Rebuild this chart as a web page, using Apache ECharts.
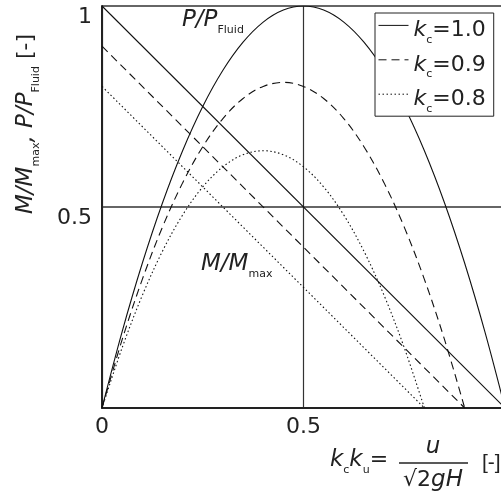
<!DOCTYPE html>
<html><head><meta charset="utf-8">
<script src="https://cdn.jsdelivr.net/npm/echarts@6/dist/echarts.min.js"></script>
<style>html,body{margin:0;padding:0;background:#fff}#c{width:501px;height:497px}</style>
</head><body><div id="c"></div>
<script>
// ---- data ----
const xs10 = [0,0.05,0.1,0.15,0.2,0.25,0.3,0.35,0.4,0.45,0.5,0.55,0.6,0.65,0.7,0.75,0.8,0.85,0.9,0.95,1];
const p10  = [0,0.19,0.36,0.51,0.64,0.75,0.84,0.91,0.96,0.99,1,0.99,0.96,0.91,0.84,0.75,0.64,0.51,0.36,0.19,0];
const xs09 = [0,0.05,0.1,0.15,0.2,0.25,0.3,0.35,0.4,0.45,0.5,0.55,0.6,0.65,0.7,0.75,0.8,0.85,0.9];
const p09  = [0,0.17,0.32,0.45,0.56,0.65,0.72,0.77,0.80,0.81,0.80,0.77,0.72,0.65,0.56,0.45,0.32,0.17,0];
const xs08 = [0,0.05,0.1,0.15,0.2,0.25,0.3,0.35,0.4,0.45,0.5,0.55,0.6,0.65,0.7,0.75,0.8];
const p08  = [0,0.15,0.28,0.39,0.48,0.55,0.60,0.63,0.64,0.63,0.60,0.55,0.48,0.39,0.28,0.15,0];
const mx10 = [0,1],   m10 = [1,0];
const mx09 = [0,0.9], m09 = [0.9,0];
const mx08 = [0,0.8], m08 = [0.8,0];
const kcNames = ['1.0','0.9','0.8'];
const xTickLabels = [0,0.5];
const yTickLabels = [0.5,1];

const F = 'DejaVu Sans';
const C = '#222';
const pairs = (xs, ys) => xs.map((x,i)=>[x, ys[i]]);
const styles = [
  {type:'solid'},
  {type:[8,5]},
  {type:[1.5,2.5]}
];
const curves = [[xs10,p10,mx10,m10],[xs09,p09,mx09,m09],[xs08,p08,mx08,m08]];
const series = [];
curves.forEach((c,i)=>{
  const ls = Object.assign({color:'#111', width:1.1}, styles[i]);
  series.push({name:kcNames[i], type:'line', data:pairs(c[0],c[1]), smooth:0.35, symbol:'none', lineStyle:ls, itemStyle:{color:'#111'}, z:3});
  series.push({name:kcNames[i], type:'line', data:pairs(c[2],c[3]), symbol:'none', lineStyle:ls, itemStyle:{color:'#111'}, z:3});
});

const chart = echarts.init(document.getElementById('c'), null, {renderer:'canvas'});
chart.setOption({
  animation:false,
  backgroundColor:'#fff',
  grid:{left:102, top:6, width:403, height:402, show:false, outerBoundsMode:'none', containLabel:false},
  xAxis:{type:'value', min:0, max:1, interval:0.5,
    axisLine:{show:true, lineStyle:{color:C, width:2}},
    axisTick:{show:false},
    axisLabel:{fontFamily:F, fontSize:22, color:C, margin:8,
      formatter:v=> xTickLabels.includes(v) ? String(v) : ''},
    splitLine:{show:true, lineStyle:{color:'#333', width:1.2}}
  },
  yAxis:{type:'value', min:0, max:1, interval:0.5,
    axisLine:{show:true, lineStyle:{color:C, width:2}},
    axisTick:{show:false},
    axisLabel:{fontFamily:F, fontSize:22, color:C, margin:10, verticalAlign:'top',
      formatter:v=> yTickLabels.includes(v) ? String(v) : ''},
    splitLine:{show:true, lineStyle:{color:'#333', width:1.5}}
  },
  legend:{orient:'vertical', left:375, top:13, backgroundColor:'#fff',
    borderColor:C, borderWidth:1, padding:[2,8,2,3], itemGap:4,
    itemWidth:30, itemHeight:26, data:kcNames,
    itemStyle:{color:'transparent', borderWidth:0, opacity:0},
    lineStyle:{width:1},
    formatter:n=>'{k|k}{s|c}{v|=' + n + '}',
    textStyle:{color:C, fontFamily:F, padding:[14,0,0,0],
      rich:{k:{fontSize:22, fontStyle:'italic', fontFamily:F, verticalAlign:'bottom', padding:[0,0,4,0]},
            s:{fontSize:11, fontFamily:F, verticalAlign:'bottom'},
            v:{fontSize:22, fontFamily:F, verticalAlign:'bottom', padding:[0,0,4,0]}}}
  },
  graphic:[
    {type:'text', left:182, top:9, z:10, style:{text:'{i|P/P}{s|Fluid}', fill:C,
      rich:{i:{fontSize:23, fontStyle:'italic', fontFamily:F, verticalAlign:'bottom', padding:[0,0,4,0]},
            s:{fontSize:11, fontFamily:F, verticalAlign:'bottom'}}}},
    {type:'text', left:201, top:253, z:10, style:{text:'{i|M/M}{s|max}', fill:C,
      rich:{i:{fontSize:23, fontStyle:'italic', fontFamily:F, verticalAlign:'bottom', padding:[0,0,4,0]},
            s:{fontSize:11, fontFamily:F, verticalAlign:'bottom'}}}},
    {type:'text', x:28, y:124, rotation:Math.PI/2, z:10, style:{
      text:'{i|M/M}{s|max}{i|, P/P}{s|Fluid}{n| [-]}', fill:C, align:'center', verticalAlign:'middle',
      rich:{i:{fontSize:23, fontStyle:'italic', fontFamily:F, verticalAlign:'bottom', padding:[0,0,4,0]},
            s:{fontSize:11, fontFamily:F, verticalAlign:'bottom'},
            n:{fontSize:22, fontFamily:F, verticalAlign:'bottom', padding:[0,0,4,0]}}}},
    {type:'text', x:330, y:462, z:10, style:{text:'{i|k}{s|c}{i|k}{s|u}{n|=}', fill:C, verticalAlign:'middle',
      rich:{i:{fontSize:23, fontStyle:'italic', fontFamily:F, verticalAlign:'bottom', padding:[0,0,4,0]},
            s:{fontSize:11, fontFamily:F, verticalAlign:'bottom'},
            n:{fontSize:22, fontFamily:F, verticalAlign:'bottom', padding:[0,0,4,0]}}}},
    {type:'text', x:433, y:447, z:10, style:{text:'u', fill:C, align:'center', verticalAlign:'middle',
      fontSize:23, fontStyle:'italic', fontFamily:F}},
    {type:'line', z:10, shape:{x1:399, y1:463, x2:468, y2:463}, style:{stroke:C, lineWidth:1.5}},
    {type:'text', x:433, y:480, z:10, style:{text:'{n|√2}{i|gH}', fill:C, align:'center', verticalAlign:'middle',
      rich:{n:{fontSize:22, fontFamily:F}, i:{fontSize:23, fontStyle:'italic', fontFamily:F}}}},
    {type:'text', x:482, y:463, z:10, style:{text:'[-]', fill:C, verticalAlign:'middle', fontSize:21, fontFamily:'Liberation Sans'}}
  ],
  series:series
});
</script></body></html>
